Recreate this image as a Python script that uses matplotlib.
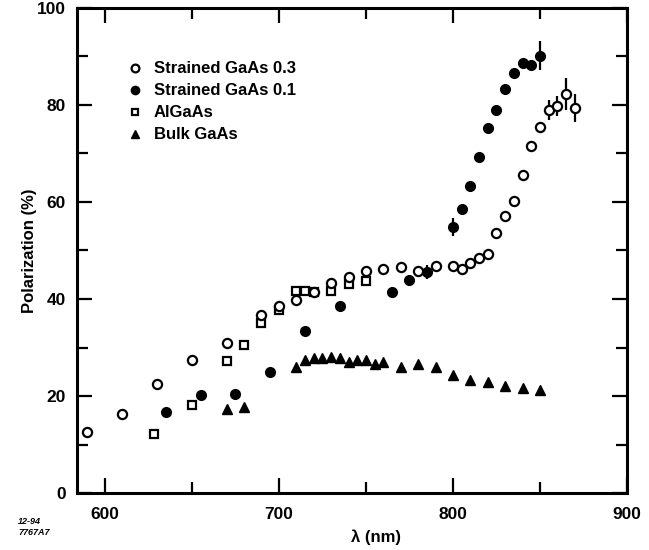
import numpy as np
import matplotlib.pyplot as plt
from matplotlib.ticker import MultipleLocator

plt.rcParams['font.family'] = ['Liberation Sans', 'DejaVu Sans']
plt.rcParams['font.weight'] = 'bold'

# Strained GaAs 0.3 (open circles)
wl_03 = np.array([590, 610, 630, 650, 670, 690, 700, 710, 720, 730, 740, 750, 760, 770, 780,
                  790, 800, 805, 810, 815, 820, 825, 830, 835, 840, 845, 850, 855, 860, 865, 870])
pol_03 = np.array([12.6, 16.3, 22.5, 27.4, 30.9, 36.6, 38.5, 39.8, 41.5, 43.3, 44.6, 45.7, 46.2, 46.6, 45.7,
                   46.9, 46.8, 46.2, 47.4, 48.4, 49.2, 53.7, 57.2, 60.3, 65.5, 71.5, 75.4, 79.0, 79.8, 82.3, 79.3])
err_03 = np.array([0, 0, 0, 0, 0, 0, 0, 0, 0, 0, 0, 0, 0, 0, 0,
                   0, 0, 0, 0, 0, 0, 0, 0, 0, 0, 0, 0, 2.1, 2.1, 3.3, 2.9])

# Strained GaAs 0.1 (filled circles)
wl_01 = np.array([635, 655, 675, 695, 715, 735, 765, 775, 785, 800, 805, 810, 815, 820, 825,
                  830, 835, 840, 845, 850])
pol_01 = np.array([16.7, 20.3, 20.5, 25.0, 33.4, 38.6, 41.5, 43.9, 45.6, 54.8, 58.6, 63.2, 69.2, 75.2, 79.0,
                   83.3, 86.7, 88.6, 88.3, 90.2])
err_01 = np.array([0, 0, 0, 0, 0, 0, 0, 0, 1.4, 1.8, 0, 0, 0, 0, 0,
                   0, 0, 0, 0, 2.9])

# AlGaAs (open squares)
wl_al = np.array([628, 650, 670, 680, 690, 700, 710, 715, 720, 730, 740, 750])
pol_al = np.array([12.2, 18.1, 27.2, 30.5, 35.1, 37.8, 41.6, 41.6, 41.5, 41.6, 43.1, 43.8])

# Bulk GaAs (filled triangles)
wl_bulk = np.array([670, 680, 710, 715, 720, 725, 730, 735, 740, 745, 750, 755, 760, 770, 780,
                    790, 800, 810, 820, 830, 840, 850])
pol_bulk = np.array([17.4, 17.8, 25.9, 27.4, 27.8, 27.8, 28.1, 27.8, 27.0, 27.4, 27.4, 26.7, 27.0, 26.0, 26.5,
                     25.9, 24.3, 23.2, 22.8, 22.1, 21.6, 21.2])

fig = plt.figure(figsize=(6.49, 5.5), dpi=100)
ax = fig.add_axes([77 / 649, 1 - 493 / 550, 550 / 649, 485 / 550])

# error bars first so the markers sit on top
m = err_03 > 0
ax.errorbar(wl_03[m], pol_03[m], yerr=err_03[m], fmt='none', ecolor='black', elinewidth=1.6, capsize=0, zorder=2)
m = err_01 > 0
ax.errorbar(wl_01[m], pol_01[m], yerr=err_01[m], fmt='none', ecolor='black', elinewidth=1.6, capsize=0, zorder=2)

ax.plot(wl_al, pol_al, ls='none', marker='s', ms=5.8, mfc='white', mec='black', mew=1.6,
        label='AlGaAs', zorder=3)
ax.plot(wl_03, pol_03, ls='none', marker='o', ms=6.6, mfc='white', mec='black', mew=1.6,
        label='Strained GaAs 0.3', zorder=4)
ax.plot(wl_01, pol_01, ls='none', marker='o', ms=7, mfc='black', mec='black',
        label='Strained GaAs 0.1', zorder=4)
ax.plot(wl_bulk, pol_bulk, ls='none', marker='^', ms=7.5, mfc='black', mec='black',
        label='Bulk GaAs', zorder=4)

ax.set_xlim(584, 900)
ax.set_ylim(0, 100)
ax.xaxis.set_major_locator(MultipleLocator(100))
ax.xaxis.set_minor_locator(MultipleLocator(50))
ax.yaxis.set_major_locator(MultipleLocator(20))
ax.yaxis.set_minor_locator(MultipleLocator(10))
ax.tick_params(which='both', direction='in', top=True, right=True, width=1.6, labelsize=12.5)
ax.tick_params(which='major', length=11, pad=8)
ax.tick_params(axis='x', which='major', pad=10)
ax.tick_params(which='minor', length=8)
for s in ax.spines.values():
    s.set_linewidth(2.2)

ax.set_ylabel('Polarization (%)', fontsize=12, fontweight='bold')
ax.yaxis.set_label_coords(-0.073, 0.5)
ax.set_xlabel('λ (nm)', fontsize=12, fontweight='bold')
ax.xaxis.set_label_coords((376 - 77) / 550, -0.075)

h, l = ax.get_legend_handles_labels()
order = [1, 2, 0, 3]
ax.legend([h[i] for i in order], [l[i] for i in order], loc='upper left',
          bbox_to_anchor=(0.09, 0.89), frameon=False, borderpad=0, borderaxespad=0,
          handlelength=1.0, handletextpad=0.65, labelspacing=0.42, markerscale=0.85,
          prop={'size': 12, 'weight': 'bold'})

fig.text(18 / 649, 1 - 527 / 550, '12-94\n7767A7', fontsize=6.5, fontweight='bold',
         style='italic', va='center', linespacing=1.3)

fig.savefig('out.png', dpi=100)
